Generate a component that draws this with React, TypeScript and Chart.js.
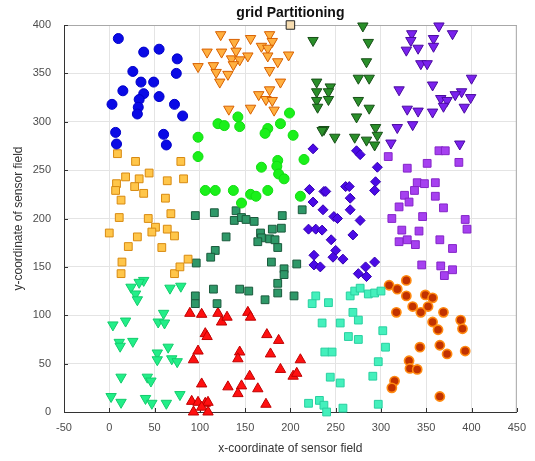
import React, { useEffect, useRef } from "react";
import { Chart, registerables } from "chart.js";
Chart.register(...registerables);

const FONT = "'Liberation Sans', Arial, Helvetica, sans-serif";

const xTicks = [-50, 0, 50, 100, 150, 200, 250, 300, 350, 400, 450];
const yTicks = [0, 50, 100, 150, 200, 250, 300, 350, 400];

const blueCircles = [[10,386],[38,372],[55,375],[75,365],[26,352],[74,350],[35,341],[49,341],[15,332],[38,329],[33,323],[55,326],[3,318],[32,315],[31,308],[72,318],[81,306],[7,289],[8,277],[60,287],[63,276]];
const orangeTri = [[123,390],[156,386],[177,390],[180,383],[138,382],[168,378],[175,376],[108,372],[124,372],[140,373],[153,368],[135,365],[144,364],[175,368],[198,369],[98,357],[115,358],[137,359],[186,362],[118,351],[131,349],[122,341],[177,353],[189,341],[177,333],[165,328],[173,323],[180,322],[182,312],[156,314],[132,313]];
const greenCircles = [[199,309],[98,284],[120,298],[127,296],[142,305],[144,295],[175,293],[189,298],[203,286],[172,288],[98,264],[186,260],[185,254],[168,253],[215,261],[187,246],[193,241],[106,229],[117,229],[137,229],[156,225],[162,223],[175,229],[146,216],[211,223]];
const darkGreenTri = [[280,399],[286,382],[284,362],[275,345],[287,345],[244,336],[242,331],[242,323],[275,322],[287,314],[273,305],[294,294],[237,292],[249,284],[271,284],[284,281],[296,286],[293,276],[225,384],[229,341],[229,331],[229,322],[230,315],[235,291]];
const purpleTri = [[364,399],[379,391],[334,391],[333,384],[358,386],[358,378],[328,374],[341,376],[344,360],[351,360],[400,345],[357,338],[320,333],[389,331],[382,328],[366,324],[373,322],[399,325],[369,316],[392,315],[329,313],[341,311],[357,310],[335,297],[318,294],[311,278],[387,277]];
const orangeSquares = [[9,267],[29,259],[79,259],[18,243],[33,241],[44,247],[64,239],[82,241],[8,236],[7,229],[28,233],[38,226],[13,219],[62,221],[11,201],[43,200],[68,205],[51,191],[47,186],[64,189],[72,182],[0,185],[31,181],[21,171],[58,170],[14,155],[13,143],[72,143],[78,150],[87,158]];
const tealSquares = [[95,203],[116,206],[140,208],[138,198],[146,201],[151,199],[160,197],[191,203],[213,209],[180,189],[190,190],[129,181],[167,185],[168,180],[177,179],[183,178],[164,176],[186,170],[117,167],[112,160],[96,154],[179,155],[193,148],[207,153],[193,142],[115,127],[95,120],[95,112],[119,112],[144,127],[154,125],[172,116],[186,133],[186,123],[204,120]];
const blueDiamonds = [[225,272],[221,230],[237,228],[225,217],[236,209],[220,189],[228,189],[235,188],[226,162],[226,152],[233,150],[273,270],[277,266],[296,253],[294,238],[293,229],[261,233],[265,233],[239,228],[266,221],[266,209],[248,202],[252,200],[277,198],[269,183],[245,178],[250,167],[247,160],[258,158],[293,155],[283,150],[275,143],[284,140]];
const purpleSquares = [[308,264],[364,270],[371,270],[386,258],[329,252],[351,257],[340,237],[348,236],[360,237],[337,229],[326,224],[331,217],[360,223],[320,212],[369,211],[312,200],[346,202],[393,199],[395,189],[323,188],[342,187],[320,176],[329,178],[338,173],[365,178],[379,169],[345,152],[366,151],[379,147],[370,141]];
const springTri = [[38,136],[33,134],[24,129],[29,122],[31,116],[67,128],[79,130],[60,102],[4,90],[18,94],[54,93],[61,92],[11,72],[26,73],[12,68],[65,67],[53,61],[53,54],[69,55],[75,52],[13,36],[42,36],[46,32],[2,16],[13,10],[40,14],[47,9],[63,9],[78,18]];
const redTri = [[89,102],[102,101],[120,102],[124,93],[130,98],[153,103],[156,98],[106,81],[108,78],[174,80],[187,74],[98,63],[144,62],[142,55],[178,60],[93,54],[211,54],[189,44],[203,37],[207,40],[155,37],[102,29],[131,26],[146,27],[142,19],[164,24],[173,8],[91,11],[98,10],[106,9],[109,10],[93,0],[102,5],[109,0]];
const aquaSquares = [[228,120],[224,112],[242,113],[235,92],[220,9],[266,120],[271,125],[277,128],[286,122],[293,123],[300,125],[269,103],[275,95],[255,92],[264,78],[275,75],[302,84],[305,67],[238,62],[246,62],[297,52],[244,36],[255,30],[291,37],[232,12],[237,7],[240,0],[258,4],[297,8]];
const orangeRedCircles = [[309,131],[318,127],[328,136],[328,120],[335,109],[344,103],[349,121],[357,118],[352,109],[369,103],[317,103],[357,93],[363,85],[388,95],[390,86],[343,67],[365,69],[373,60],[393,63],[331,53],[332,45],[340,44],[315,32],[312,25],[365,16]];
const sink = [[200,400]];

const titleText = "grid Partitioning";
const xTitle = "x-coordinate of sensor field";
const yTitle = "y-coordinate of sensor field";

function ds(pts: number[][], style: string, rot: number, fill: string, border: string, r: number, bw = 1) {
  return {
    data: pts.map(([x, y]) => ({ x, y })),
    pointStyle: style,
    pointRotation: rot,
    pointRadius: r,
    pointHoverRadius: r,
    pointBackgroundColor: fill,
    pointBorderColor: border,
    pointBorderWidth: bw,
    backgroundColor: fill,
    borderColor: border,
    showLine: false,
    clip: false,
  };
}

const framePlugin = {
  id: "frame",
  beforeDatasetsDraw(chart: any) {
    const { ctx, chartArea: a, scales } = chart;
    ctx.save();
    ctx.strokeStyle = "#a8a8a8";
    ctx.lineWidth = 1;
    ctx.beginPath();
    ctx.moveTo(a.left, a.top + 0.5);
    ctx.lineTo(a.right, a.top + 0.5);
    ctx.moveTo(a.right - 0.5, a.top);
    ctx.lineTo(a.right - 0.5, a.bottom);
    ctx.stroke();
    ctx.strokeStyle = "#333";
    ctx.beginPath();
    for (const v of xTicks) {
      const px = Math.round(scales.x.getPixelForValue(v)) + 0.5;
      ctx.moveTo(px, a.bottom);
      ctx.lineTo(px, a.bottom - 4);
    }
    for (const v of yTicks) {
      const py = Math.round(scales.y.getPixelForValue(v)) + 0.5;
      ctx.moveTo(a.left, py);
      ctx.lineTo(a.left + 4, py);
    }
    ctx.stroke();
    ctx.restore();
  },
};

const titlePlugin = {
  id: "titleText",
  afterDraw(chart: any) {
    const { ctx, chartArea: a } = chart;
    ctx.save();
    ctx.font = "bold 14px " + FONT;
    ctx.fillStyle = "#111";
    ctx.textAlign = "center";
    ctx.textBaseline = "middle";
    ctx.fillText(titleText, (a.left + a.right) / 2, 13);
    ctx.restore();
  },
};

export default function App() {
  const ref = useRef<HTMLCanvasElement>(null);
  useEffect(() => {
    document.body.style.margin = "0";
    const canvas = ref.current!;
    const chart = new Chart(canvas, {
      type: "scatter",
      data: {
        datasets: [
          ds(blueCircles, "circle", 0, "#0a0ae6", "#0000c8", 5),
          ds(orangeTri, "triangle", 180, "#ffb040", "#d86000", 6),
          ds(greenCircles, "circle", 0, "#1af01a", "#10dc10", 5),
          ds(darkGreenTri, "triangle", 180, "#2a8f2a", "#174f17", 6),
          ds(purpleTri, "triangle", 180, "#7a22ee", "#4a0aa0", 6),
          ds(orangeSquares, "rect", 0, "#ffc64a", "#d88a10", 5.5),
          ds(tealSquares, "rect", 0, "#2e9868", "#1a5a3c", 5.5),
          ds(blueDiamonds, "rectRot", 0, "#4a0ae6", "#3500b0", 5),
          ds(purpleSquares, "rect", 0, "#a640f0", "#8424c8", 5.5),
          ds(springTri, "triangle", 180, "#22ee88", "#12cc6c", 6),
          ds(redTri, "triangle", 0, "#ff1010", "#c00000", 6),
          ds(aquaSquares, "rect", 0, "#44f0bc", "#28d0a0", 5.5),
          ds(orangeRedCircles, "circle", 0, "#c23200", "#ff8a10", 4.6, 1.6),
          ds(sink, "rect", 0, "#f6dcb0", "#222222", 6),
        ] as any,
      },
      options: {
        responsive: false,
        animation: false,
        devicePixelRatio: 1,
        events: [],
        layout: { padding: { top: 25, right: 13, left: 0, bottom: 0 } },
        plugins: {
          legend: { display: false },
          tooltip: { enabled: false },
          title: { display: false },
        },
        scales: {
          x: {
            type: "linear",
            min: -50,
            max: 450,
            afterBuildTicks: (s: any) => { s.ticks = xTicks.map((v) => ({ value: v })); },
            ticks: { font: { family: FONT, size: 11 }, color: "#4d4d4d", padding: 9, maxRotation: 0 },
            grid: { color: "#e4e4e4", drawTicks: false },
            border: { color: "#333" },
            title: { display: true, text: xTitle, font: { family: FONT, size: 12 }, color: "#333", padding: { top: 0, bottom: 5 } },
            afterFit: (s: any) => { s.height = 49; },
          },
          y: {
            type: "linear",
            min: 0,
            max: 400,
            afterBuildTicks: (s: any) => { s.ticks = yTicks.map((v) => ({ value: v })); },
            ticks: { font: { family: FONT, size: 11 }, color: "#4d4d4d", padding: 13 },
            grid: { color: "#e4e4e4", drawTicks: false },
            border: { color: "#333" },
            title: { display: true, text: yTitle, font: { family: FONT, size: 12 }, color: "#333", padding: { top: 11, bottom: 0 } },
            afterFit: (s: any) => { s.width = 64; },
          },
        },
      } as any,
      plugins: [framePlugin, titlePlugin],
    });
    return () => chart.destroy();
  }, []);
  return (
    <div style={{ width: 535, height: 461 }}>
      <canvas ref={ref} width={535} height={461} />
    </div>
  );
}
